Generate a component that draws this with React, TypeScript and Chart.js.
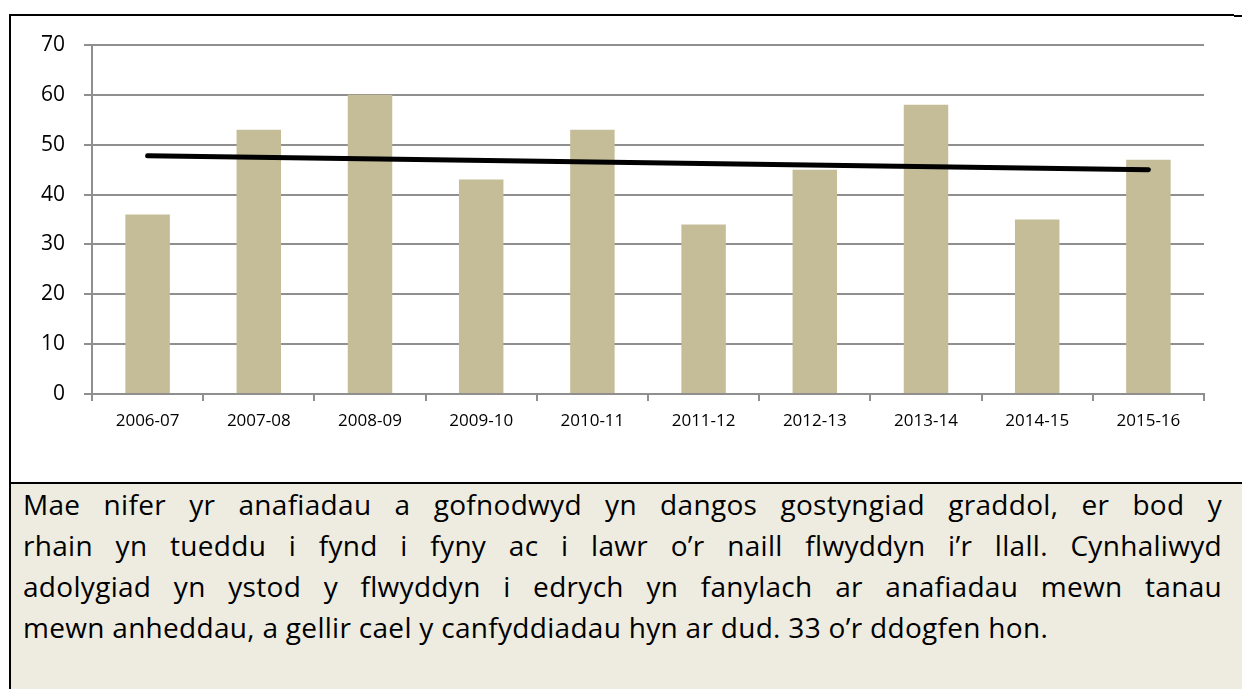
import React, { useEffect, useRef } from "react";
import { Chart, registerables } from "chart.js";

Chart.register(...registerables);

const categories = [
  "2006-07",
  "2007-08",
  "2008-09",
  "2009-10",
  "2010-11",
  "2011-12",
  "2012-13",
  "2013-14",
  "2014-15",
  "2015-16",
];
const injuries = [36, 53, 60, 43, 53, 34, 45, 58, 35, 47];
const trendLine: (number | null)[] = [47.8, null, null, null, null, null, null, null, null, 45.0];
const yMin = 0;
const yMax = 70;
const yStep = 10;

const paragraphLines = [
  "Mae nifer yr anafiadau a gofnodwyd yn dangos gostyngiad graddol, er bod y",
  "rhain yn tueddu i fynd i fyny ac i lawr o’r naill flwyddyn i’r llall. Cynhaliwyd",
  "adolygiad yn ystod y flwyddyn i edrych yn fanylach ar anafiadau mewn tanau",
  "mewn anheddau, a gellir cael y canfyddiadau hyn ar dud. 33 o’r ddogfen hon.",
];

const FONT = "'Open Sans', 'Noto Sans', sans-serif";
const GRID = "#8f8f8f";

export default function App() {
  const canvasRef = useRef<HTMLCanvasElement | null>(null);

  useEffect(() => {
    const canvas = canvasRef.current;
    if (!canvas) return;
    const chart = new Chart(canvas, {
      type: "bar",
      data: {
        labels: categories,
        datasets: [
          {
            type: "line",
            label: "Tuedd",
            data: trendLine,
            borderColor: "#000000",
            borderWidth: 5,
            borderCapStyle: "round",
            pointRadius: 0,
            spanGaps: true,
            fill: false,
            order: 0,
          } as any,
          {
            type: "bar",
            label: "Anafiadau",
            data: injuries,
            backgroundColor: "#C4BD97",
            borderWidth: 0,
            barPercentage: 0.4,
            categoryPercentage: 1.0,
            order: 1,
          },
        ],
      },
      options: {
        responsive: false,
        maintainAspectRatio: false,
        animation: false,
        layout: { padding: { left: 0, right: 38, top: 45, bottom: 0 } },
        plugins: {
          legend: { display: false },
          tooltip: { enabled: false },
          title: { display: false },
        },
        scales: {
          x: {
            offset: true,
            grid: {
              display: true,
              drawOnChartArea: false,
              drawTicks: true,
              tickLength: 7,
              color: GRID,
              lineWidth: 2,
              offset: true,
            },
            border: { display: true, color: GRID, width: 2 },
            ticks: {
              color: "#000000",
              font: { family: FONT, size: 17 },
              padding: 10,
              maxRotation: 0,
              autoSkip: false,
            },
            afterFit: (scale: any) => {
              scale.height = 88;
            },
          },
          y: {
            min: yMin,
            max: yMax,
            grid: {
              display: true,
              drawTicks: true,
              tickLength: 8,
              color: GRID,
              lineWidth: 2,
            },
            border: { display: true, color: GRID, width: 2 },
            ticks: {
              stepSize: yStep,
              color: "#000000",
              font: { family: FONT, size: 21 },
              padding: 19,
            },
            afterFit: (scale: any) => {
              scale.width = 92;
            },
          },
        },
      },
    });
    return () => chart.destroy();
  }, []);

  return (
    <div
      style={{
        position: "absolute",
        left: 0,
        top: 0,
        width: 1242,
        height: 689,
        background: "#ffffff",
        overflow: "hidden",
      }}
    >
      <canvas
        ref={canvasRef}
        width={1242}
        height={482}
        style={{ position: "absolute", left: 0, top: 0, width: 1242, height: 482 }}
      />
      {/* frame lines */}
      <div style={{ position: "absolute", left: 9, top: 14, width: 1225, height: 2, background: "#000" }} />
      <div style={{ position: "absolute", left: 1234, top: 15, width: 8, height: 2, background: "#000" }} />
      <div style={{ position: "absolute", left: 9, top: 14, width: 2, height: 675, background: "#000" }} />
      {/* text box */}
      <div
        style={{
          position: "absolute",
          left: 11,
          top: 482,
          width: 1231,
          height: 207,
          background: "#EEECE1",
          borderTop: "2px solid #000",
        }}
      >
        <div
          style={{
            position: "absolute",
            left: 12,
            top: 0,
            width: 1199,
            fontFamily: FONT,
            fontSize: 28,
            lineHeight: "41px",
            letterSpacing: "0.3px",
            color: "#000",
          }}
        >
          {paragraphLines.map((line, i) => (
            <div
              key={i}
              style={{
                whiteSpace: "nowrap",
                textAlign: i < paragraphLines.length - 1 ? "justify" : "left",
                textAlignLast: i < paragraphLines.length - 1 ? "justify" : "left",
              } as any}
            >
              {line}
            </div>
          ))}
        </div>
      </div>
    </div>
  );
}
